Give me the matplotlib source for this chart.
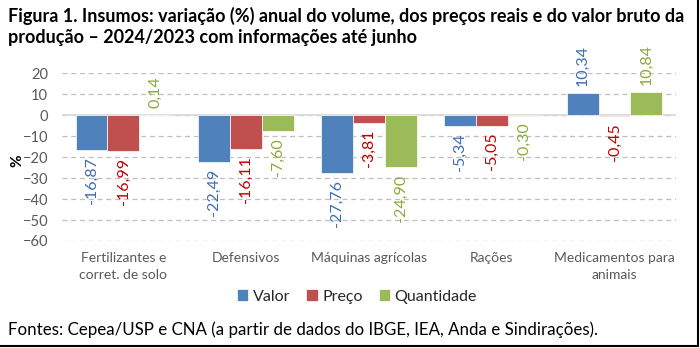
import numpy as np
import matplotlib.pyplot as plt
from matplotlib.lines import Line2D

plt.rcParams['font.family'] = ['Lato', 'DejaVu Sans']

categorias = ['Fertilizantes e\ncorret. de solo', 'Defensivos', 'Máquinas agrícolas', 'Rações', 'Medicamentos para\nanimais']
valor = [-16.87, -22.49, -27.76, -5.34, 10.34]
preco = [-16.99, -16.11, -3.81, -5.05, -0.45]
quantidade = [0.14, -7.60, -24.90, -0.30, 10.84]
series = ['Valor', 'Preço', 'Quantidade']
cores = ['#4F81BD', '#C0504D', '#9BBB59']
cores_rot = ['#3D6DB5', '#C00000', '#8AAA3A']

fig = plt.figure(figsize=(7, 3.48), dpi=100)
ax = fig.add_axes([0.0886, 0.3075, 0.877, 0.4825])

x = np.arange(len(categorias))
w = 0.26
for i, (dados, c, cr, nome) in enumerate(zip([valor, preco, quantidade], cores, cores_rot, series)):
    pos = x + (i - 1) * w
    barras = ax.bar(pos, dados, w, color=c, label=nome, zorder=3, edgecolor='white', linewidth=0.5)
    for p, v in zip(pos, dados):
        txt = ('%.2f' % v).replace('.', ',')
        ax.annotate(txt, (p, v), xytext=(0, 5 if v >= 0 else -5), textcoords='offset points',
                    rotation=90, ha='center', va='bottom' if v >= 0 else 'top',
                    color=cr, fontsize=11.5, annotation_clip=False)

ax.set_xlim(-0.5, 4.5)
ax.set_ylim(-60, 20)
ax.set_yticks(range(-60, 21, 10))
ax.tick_params(axis='y', length=0, colors='#595959', labelsize=10.5, pad=10)
ax.tick_params(axis='x', length=0, colors='#595959', labelsize=10, pad=8)
ax.set_xticks(x)
ax.set_xticklabels(categorias, linespacing=1.5)
ax.grid(axis='y', linestyle=(0, (4, 3)), color='#BFBFBF', linewidth=0.9, zorder=0)
ax.axhline(0, color='#D9D9D9', linewidth=1.2, zorder=2)
for s in ax.spines.values():
    s.set_visible(False)
ax.set_ylabel('%', fontsize=11, fontweight='bold')
ax.yaxis.set_label_coords(-0.062, 0.48)

fig.legend(loc='center', bbox_to_anchor=(0.51, 0.148), ncol=3, frameon=False, fontsize=11.5,
           handlelength=0.7, handleheight=0.7, handletextpad=0.3, columnspacing=1.0, labelcolor='#262626')

fig.text(0.011, 0.98, 'Figura 1. Insumos: variação (%) anual do volume, dos preços reais e do valor bruto da\nprodução – 2024/2023 com informações até junho',
         fontsize=13, fontweight='bold', va='top', ha='left', linespacing=1.25)
fig.text(0.011, 0.052, 'Fontes: Cepea/USP e CNA (a partir de dados do IBGE, IEA, Anda e Sindirações).',
         fontsize=12.2, va='center', ha='left')

fig.add_artist(Line2D([0, 0.9975], [0.005, 0.005], color='black', linewidth=1.5, transform=fig.transFigure))
fig.add_artist(Line2D([0.9975, 0.9975], [0.005, 1], color='black', linewidth=1.5, transform=fig.transFigure))

fig.savefig('out.png', dpi=100)
